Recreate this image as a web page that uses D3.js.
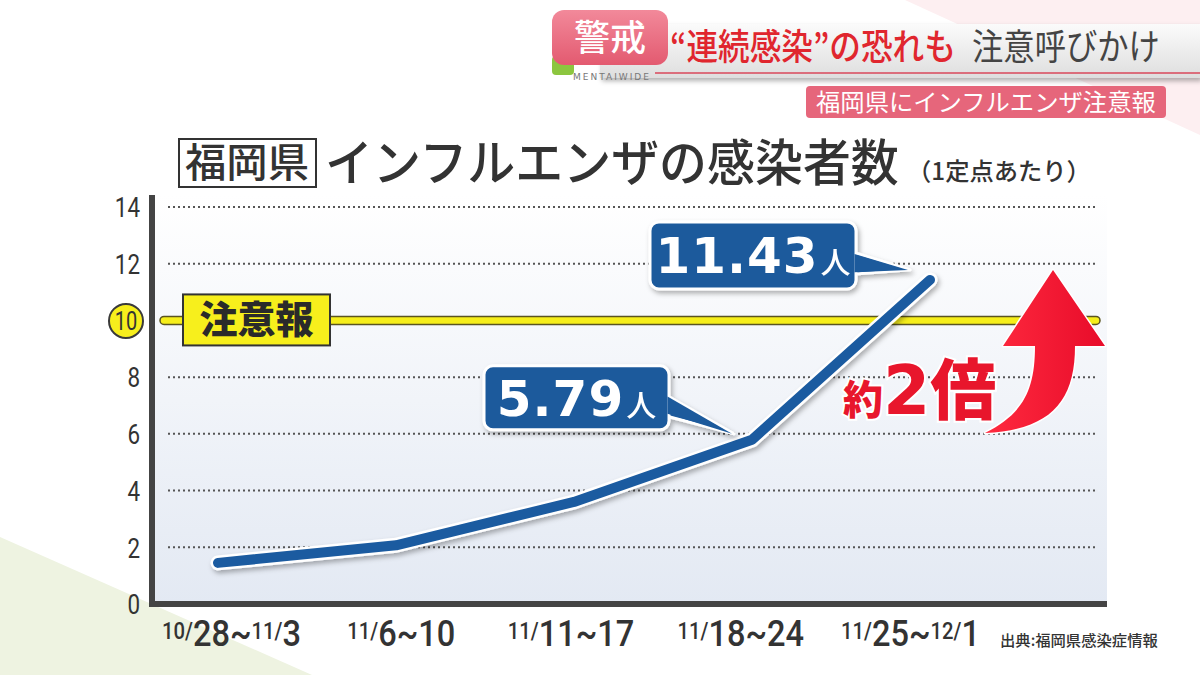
<!DOCTYPE html>
<html><head><meta charset="utf-8">
<script src="https://cdn.jsdelivr.net/npm/d3@7"></script>
<style>
html,body{margin:0;padding:0;background:#fff;}
svg{display:block;}
</style></head>
<body>
<svg id="chart" width="1200" height="675"></svg>
<script>
// ---- data ----
const categories = ["10/28~11/3", "11/6~10", "11/11~17", "11/18~24", "11/25~12/1"];
const values = [1.45, 2.07, 3.6, 5.79, 11.43];
const yTicks = [0, 2, 4, 6, 8, 10, 12, 14];
const alertLevel = 10;
const calloutIdx = [3, 4];
const calloutLabels = ["5.79", "11.43"];
const titleBox = "福岡県";
const titleMain = "インフルエンザの感染者数";
const titleSub = "（1定点あたり）";
const headerTab = "警戒";
const headerRed = "“連続感染”の恐れも";
const headerGray = "注意呼びかけ";
const subHeader = "福岡県にインフルエンザ注意報";
const alertLabel = "注意報";
const ratioSmall = "約";
const ratioBig = "2倍";
const source = "出典:福岡県感染症情報";

const JP = "'Noto Sans CJK JP', 'Noto Sans', sans-serif";
const NARROW = "'Roboto', 'Liberation Sans', sans-serif";
const svg = d3.select("#chart");
const defs = svg.append("defs");

// fit a text horizontally into a width by scaling
function fitText(sel, x0, y0, width) {
  const w = sel.node().getComputedTextLength();
  sel.attr("x", 0).attr("y", 0).attr("transform", `translate(${x0},${y0}) scale(${width / w},1)`);
}

// gradients & filters
const g1 = defs.append("linearGradient").attr("id","plotBg").attr("x1",0).attr("y1",0).attr("x2",0).attr("y2",1);
g1.append("stop").attr("offset","0%").attr("stop-color","#ffffff");
g1.append("stop").attr("offset","100%").attr("stop-color","#e3e9f3");
const g2 = defs.append("linearGradient").attr("id","barBg").attr("x1",0).attr("y1",0).attr("x2",0).attr("y2",1);
g2.append("stop").attr("offset","0%").attr("stop-color","#fbfbfb");
g2.append("stop").attr("offset","100%").attr("stop-color","#dedede");
const g3 = defs.append("linearGradient").attr("id","tabBg").attr("x1",0).attr("y1",0).attr("x2",0).attr("y2",1);
g3.append("stop").attr("offset","0%").attr("stop-color","#f2899a");
g3.append("stop").attr("offset","100%").attr("stop-color","#e35a70");
const g4 = defs.append("linearGradient").attr("id","arrowBg").attr("x1",0).attr("y1",0).attr("x2",1).attr("y2",0);
g4.append("stop").attr("offset","0%").attr("stop-color","#ff2a3f");
g4.append("stop").attr("offset","100%").attr("stop-color","#e80c2a");
const f1 = defs.append("filter").attr("id","shadow").attr("x","-20%").attr("y","-20%").attr("width","140%").attr("height","160%");
f1.append("feDropShadow").attr("dx",2).attr("dy",3).attr("stdDeviation",2.5).attr("flood-color","#000").attr("flood-opacity",0.3);

// background decorations
svg.append("polygon").attr("points","0,537 0,675 312,675").attr("fill","#eef3e1");
svg.append("polygon").attr("points","905,0 1200,0 1200,135").attr("fill","#fdeff1");

// ---- header ----
svg.append("rect").attr("x",600).attr("y",24).attr("width",600).attr("height",54).attr("fill","url(#barBg)").attr("filter","url(#shadow)");
svg.append("line").attr("x1",655).attr("x2",1200).attr("y1",73).attr("y2",73).attr("stroke","#d9475a").attr("stroke-width",1.5);
svg.append("rect").attr("x",552).attr("y",56).attr("width",22).attr("height",19).attr("rx",4).attr("fill","#8cc63f");
svg.append("rect").attr("x",552).attr("y",10).attr("width",116).attr("height",55).attr("rx",12).attr("fill","url(#tabBg)");
svg.append("text").attr("x",610).attr("y",51).attr("text-anchor","middle").attr("font-family",JP).attr("font-weight",500)
  .attr("font-size",36).attr("fill","#fff").text(headerTab);
svg.append("text").attr("x",573).attr("y",80).attr("font-family","'DejaVu Sans', sans-serif").attr("font-size",9)
  .attr("letter-spacing",2).attr("fill","#777").text("MENTAIWIDE");
fitText(svg.append("text").attr("font-family",JP).attr("font-weight",500).attr("font-size",36)
  .attr("fill","#e0262e").text(headerRed), 670, 60, 286);
fitText(svg.append("text").attr("font-family",JP).attr("font-weight",400).attr("font-size",36)
  .attr("fill","#444").text(headerGray), 972, 60, 188);
svg.append("rect").attr("x",806).attr("y",86).attr("width",360).attr("height",32).attr("rx",4).attr("fill","#e6667b");
fitText(svg.append("text").attr("font-family",JP).attr("font-size",24).attr("fill","#fff").text(subHeader), 816, 111, 340);

// ---- title ----
svg.append("rect").attr("x",179).attr("y",139).attr("width",137).attr("height",48).attr("fill","none").attr("stroke","#333").attr("stroke-width",2);
fitText(svg.append("text").attr("font-family",JP).attr("font-weight",500).attr("font-size",40).attr("fill","#333").text(titleBox), 185, 177, 124);
fitText(svg.append("text").attr("font-family",JP).attr("font-weight",500).attr("font-size",50).attr("fill","#333").text(titleMain), 325, 181, 574);
fitText(svg.append("text").attr("font-family",JP).attr("font-weight",500).attr("font-size",24).attr("fill","#333").text(titleSub), 907, 180, 184);

// ---- scales ----
const plotL = 152, plotR = 1107;
const y = d3.scaleLinear().domain([0, 14]).range([604, 207]);
const x = d3.scalePoint().domain(categories).range([218, 930]);
const xl = d3.scalePoint().domain(categories).range([231, 910]);

// plot background
svg.append("rect").attr("x",plotL).attr("y",y(14)-12).attr("width",plotR-plotL).attr("height",y(0)-y(14)+12).attr("fill","url(#plotBg)");

// gridlines
svg.append("g").selectAll("line").data(yTicks.filter(d => d > 0 && d !== alertLevel)).join("line")
  .attr("x1",168).attr("x2",1097).attr("y1",d=>y(d)).attr("y2",d=>y(d))
  .attr("stroke","#555").attr("stroke-width",2).attr("stroke-dasharray","2,3");

// y axis
const ySx = 0.8;
const yAxis = svg.append("g").attr("transform",`translate(${plotL},0)`)
  .call(d3.axisLeft(y).tickValues(yTicks).tickSize(0).tickPadding(12));
yAxis.select(".domain").remove();
yAxis.selectAll("text").attr("font-family",NARROW).attr("font-size",28).attr("fill","#333").attr("dy","0.35em")
  .attr("x", -12/ySx).attr("transform",`scale(${ySx},1)`);
yAxis.selectAll(".tick").filter(d => d === alertLevel).each(function(){
  const t = d3.select(this);
  t.insert("circle","text").attr("cx",-26).attr("cy",0).attr("r",17).attr("fill","#f7ee1c").attr("stroke","#3a3a3a").attr("stroke-width",2);
  t.select("text").attr("x",-26/ySx).attr("text-anchor","middle").attr("font-size",25);
});

// axis frame lines
svg.append("line").attr("x1",plotL).attr("x2",plotL).attr("y1",y(14)-12).attr("y2",y(0)+3).attr("stroke","#444").attr("stroke-width",6);
svg.append("line").attr("x1",plotL-3).attr("x2",plotR).attr("y1",y(0)).attr("y2",y(0)).attr("stroke","#444").attr("stroke-width",6);

// x labels
const xg = svg.append("g").attr("transform",`translate(0,${y(0)+42})`)
  .call(d3.axisBottom(xl).tickSize(0).tickFormat(""));
xg.select(".domain").remove();
xg.selectAll(".tick").append("text").attr("text-anchor","middle").attr("fill","#333").attr("font-family",NARROW)
  .attr("font-weight",500).attr("transform","scale(0.88,1)")
  .each(function(d){
    const t = d3.select(this);
    const parts = d.match(/\d+\/|[^\/]+?(?=\d+\/|$)/g);
    parts.forEach(p => {
      const small = /\/$/.test(p);
      t.append("tspan").attr("font-size", small ? 23 : 37)
        .attr("baseline-shift", small ? "7" : "0").text(p);
    });
  });

// alert line
svg.append("rect").attr("x",160).attr("y",y(alertLevel)-4).attr("width",940).attr("height",8).attr("rx",4)
  .attr("fill","#f6ee1a").attr("stroke","#5a5420").attr("stroke-width",1.5);
svg.append("rect").attr("x",183).attr("y",y(alertLevel)-26).attr("width",147).attr("height",51)
  .attr("fill","#f7ef1c").attr("stroke","#333").attr("stroke-width",2);
svg.append("text").attr("x",256.5).attr("y",y(alertLevel)+13).attr("text-anchor","middle").attr("font-family",JP).attr("font-weight",900)
  .attr("font-size",38).attr("fill","#2a2a2a").text(alertLabel);

// data line
const line = d3.line().x((d,i)=>x(categories[i])).y(d=>y(d));
svg.append("path").datum(values).attr("d",line).attr("fill","none").attr("stroke","#fff").attr("stroke-width",15)
  .attr("stroke-linecap","round").attr("stroke-linejoin","round").attr("filter","url(#shadow)");
svg.append("path").datum(values).attr("d",line).attr("fill","none").attr("stroke","#1b5ba0").attr("stroke-width",10)
  .attr("stroke-linecap","round").attr("stroke-linejoin","round");

// callouts
const callSpecs = [
  {w:185, h:64, dx:-268, dy:-74},
  {w:206, h:67, dx:-280, dy:-58}
];
calloutIdx.forEach((ci, k) => {
  const px = x(categories[ci]), py = y(values[ci]);
  const s = callSpecs[k];
  const bx = px + s.dx, by = py + s.dy;
  const g = svg.append("g").attr("filter","url(#shadow)");
  const tipX = px - (k===0 ? 18 : 20), tipY = py - (k===0 ? 6 : 10);
  g.append("path").attr("d",`M${bx+s.w-4},${by+s.h*0.45} L${tipX},${tipY} L${bx+s.w-4},${by+s.h*0.78} Z`)
    .attr("fill","#1d5a9c").attr("stroke","#fff").attr("stroke-width",3).attr("stroke-linejoin","round");
  g.append("rect").attr("x",bx).attr("y",by).attr("width",s.w).attr("height",s.h).attr("rx",9)
    .attr("fill","#1d5a9c").attr("stroke","#fff").attr("stroke-width",3);
  g.append("path").attr("d",`M${bx+s.w-1.5},${by+s.h*0.45+2} L${tipX-2},${tipY} L${bx+s.w-1.5},${by+s.h*0.78-2} Z`)
    .attr("fill","#1d5a9c");
  const t = g.append("text").attr("x",bx+s.w/2).attr("y",by+s.h/2+18).attr("text-anchor","middle").attr("fill","#fff");
  t.append("tspan").attr("font-family","'DejaVu Sans', sans-serif").attr("font-weight",700).attr("font-size",50)
    .attr("letter-spacing",1).text(calloutLabels[k]);
  t.append("tspan").attr("font-family",JP).attr("font-weight",500).attr("font-size",30).attr("dx",2).text("人");
});

// 2x arrow
svg.append("path").attr("d","M1053,270 L1105,346 L1075,346 C1075,402 1050,430 985,433 C1022,414 1035,392 1035,346 L1003,346 Z")
  .attr("fill","url(#arrowBg)").attr("stroke","#fff").attr("stroke-width",3).attr("stroke-linejoin","round").attr("paint-order","stroke");
const rt = svg.append("text").attr("x",843).attr("y",414).attr("font-family",JP).attr("font-weight",900).attr("fill","#e8162c")
  .attr("stroke","#fff").attr("stroke-width",4).attr("paint-order","stroke");
rt.append("tspan").attr("font-size",40).text(ratioSmall);
rt.append("tspan").attr("font-size",68).attr("font-family","'DejaVu Sans', "+JP).attr("font-weight",900).text(ratioBig[0]);
rt.append("tspan").attr("font-size",66).text(ratioBig.slice(1));

// source
fitText(svg.append("text").attr("font-family",JP).attr("font-weight",500).attr("font-size",15).attr("fill","#333").text(source), 1000, 646, 158);
</script>
</body></html>
